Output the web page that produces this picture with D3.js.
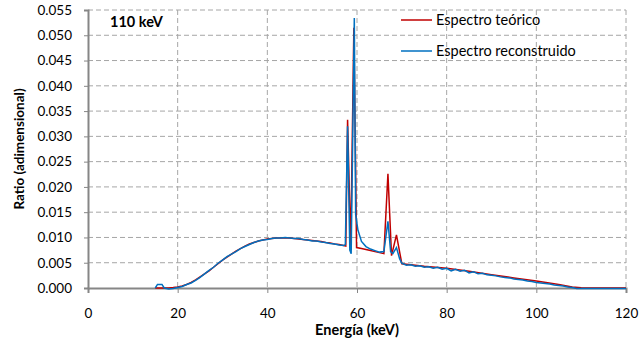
<!DOCTYPE html>
<html lang="es">
<head>
<meta charset="UTF-8" />
<script src="https://d3js.org/d3.v7.min.js"></script>
<title>Espectro 110 keV</title>
<style>
  body { margin: 0; background: #fff; }
  text { font-family: Lato, "Open Sans", sans-serif; fill: #000; }
</style>
</head>
<body>
<script>
// energía (keV) y ratio, espectro teórico
var teoE = [15, 16, 17, 18, 19, 20, 21, 22, 23, 24, 25, 26, 27, 28, 29, 30, 31, 32, 33, 34, 35, 36, 37, 38, 39, 40,
  41, 42, 43, 44, 45, 46, 47, 48, 49, 50, 51, 52, 53, 54, 55, 56, 57, 57.5, 57.9, 58.6, 59.3, 59.9,
  61, 62, 63, 64, 65, 66, 66.9, 67.7, 68.8, 70, 72, 75, 80, 85, 90, 95, 100, 105, 108, 110, 115, 120];
var teoV = [0, 0, 0, 0.00002, 0.0001, 0.0002, 0.0004, 0.0007, 0.0011, 0.0016, 0.0022, 0.0028, 0.0034, 0.0041, 0.0048, 0.0055,
  0.0061, 0.0067, 0.0073, 0.0078, 0.0083, 0.0087, 0.0090, 0.0093, 0.0095, 0.0097,
  0.0098, 0.0099, 0.0099, 0.0099, 0.0099, 0.0098, 0.0097, 0.0096, 0.0095, 0.0094, 0.0093, 0.0092, 0.0090, 0.0089,
  0.0087, 0.0086, 0.0084, 0.0083, 0.0333, 0.0080, 0.0515, 0.0080,
  0.0078, 0.0076, 0.0074, 0.0072, 0.0070, 0.0068, 0.0226, 0.0064, 0.0105, 0.0048, 0.0046, 0.0043, 0.0039,
  0.0033, 0.0026, 0.0020, 0.0014, 0.0007, 0.0002, 0.00005, 0, 0];

// espectro reconstruido
var recE = [15, 15.5, 16.5, 17, 18, 19, 20, 21, 22, 23, 24, 25, 26, 27, 28, 29, 30, 31, 32, 33, 34, 35, 36, 37, 38, 39, 40,
  41, 42, 43, 44, 45, 46, 47, 48, 49, 50, 51, 52, 53, 54, 55, 56, 57, 57.4, 57.9, 58.4, 58.7, 59.4, 59.7, 60.2,
  61, 62, 63, 64, 65, 66, 66.9, 67.5, 68, 68.8, 69.5, 70, 71, 72, 73, 74, 75, 76, 77, 78, 79, 80,
  81, 82, 83, 84, 85, 86, 87, 88, 89, 90, 91, 92, 93, 94, 95, 96, 97, 98, 99, 100,
  101, 102, 103, 104, 105, 106, 107, 108, 109, 110, 112, 114, 116, 118, 120];
var recV = [0, 0.0007, 0.0007, 0, -0.0002, -0.0001, 0.0001, 0.0003, 0.0007, 0.0010, 0.0015, 0.0021, 0.0028, 0.0035, 0.0041,
  0.0049, 0.0055, 0.0062, 0.0067, 0.0072, 0.0078, 0.0082, 0.0086, 0.0090, 0.0093, 0.0095, 0.0096,
  0.0098, 0.0099, 0.0099, 0.0100, 0.0099, 0.0098, 0.0098, 0.0096, 0.0095, 0.0093, 0.0093, 0.0091, 0.0090, 0.0088,
  0.0087, 0.0085, 0.0084, 0.0086, 0.0320, 0.0075, 0.0068, 0.0534, 0.0145, 0.0115,
  0.0092, 0.0082, 0.0077, 0.0074, 0.0071, 0.0072, 0.0132, 0.0072, 0.0068, 0.0080, 0.0058, 0.0049,
  0.0045, 0.0046, 0.0043, 0.0044, 0.0041, 0.0042, 0.0039, 0.0041, 0.0037, 0.0039,
  0.0034, 0.0037, 0.0033, 0.0035, 0.0030, 0.0032, 0.0028, 0.0029, 0.0026, 0.0025,
  0.0024, 0.0022, 0.0021, 0.0020, 0.0018, 0.0017, 0.0016, 0.0014, 0.0013, 0.0011,
  0.0010, 0.0009, 0.0008, 0.0006, 0.0005, 0.0004, 0.0002, 0.0001, -0.0001, -0.0001,
  -0.0001, -0.0001, -0.0001, -0.0001, -0.0001];

var xTicks = [0, 20, 40, 60, 80, 100, 120];
var yTicks = [0, 0.005, 0.010, 0.015, 0.020, 0.025, 0.030, 0.035, 0.040, 0.045, 0.050, 0.055];
var seriesNames = ["Espectro teórico", "Espectro reconstruido"];
var seriesColors = ["#C00000", "#0070C0"];

var W = 640, H = 343;
var margin = {top: 10, right: 14, bottom: 55, left: 88};
var width = W - margin.left - margin.right,
    height = H - margin.top - margin.bottom;

var x = d3.scaleLinear().domain([0, 120]).range([0, width]);
var y = d3.scaleLinear().domain([0, 0.055]).range([height, 0]);

var svg = d3.select("body").append("svg").attr("width", W).attr("height", H);
var g = svg.append("g").attr("transform", "translate(" + margin.left + "," + margin.top + ")");

// rejilla
g.selectAll(".gy").data(yTicks.slice(1)).enter().append("line")
  .attr("x1", 0).attr("x2", width)
  .attr("y1", function(d){ return y(d); }).attr("y2", function(d){ return y(d); })
  .attr("stroke", "#a6a6a6").attr("stroke-dasharray", "5,3");
g.selectAll(".gx").data(xTicks.slice(1)).enter().append("line")
  .attr("y1", 0).attr("y2", height)
  .attr("x1", function(d){ return x(d); }).attr("x2", function(d){ return x(d); })
  .attr("stroke", "#a6a6a6").attr("stroke-dasharray", "5,3");

// ejes
var yAxis = g.append("g").call(d3.axisLeft(y).tickValues(yTicks).tickFormat(d3.format(".3f")).tickSize(4).tickPadding(12));
var xAxis = g.append("g").attr("transform", "translate(0," + height + ")")
  .call(d3.axisBottom(x).tickValues(xTicks).tickSize(5).tickPadding(15));
[yAxis, xAxis].forEach(function(a){
  a.select(".domain").attr("stroke", "#868686").attr("stroke-width", 2);
  a.selectAll(".tick line").attr("stroke", "#868686");
  a.selectAll("text").style("font-size", "13.5px").style("font-family", "Lato, sans-serif").attr("fill", "#000");
});

// series
var line = d3.line().x(function(d){ return x(d[0]); }).y(function(d){ return y(d[1]); });
var teo = d3.zip(teoE, teoV), rec = d3.zip(recE, recV);
g.append("path").datum(teo).attr("d", line).attr("fill", "none")
  .attr("stroke", seriesColors[0]).attr("stroke-width", 1.5);
g.append("path").datum(rec).attr("d", line).attr("fill", "none")
  .attr("stroke", seriesColors[1]).attr("stroke-width", 1.5);

// leyenda
var leg = svg.append("g").selectAll("g").data(seriesNames).enter().append("g")
  .attr("transform", function(d, i){ return "translate(401," + (20 + i * 31) + ")"; });
leg.append("line").attr("x1", 0).attr("x2", 31)
  .attr("stroke", function(d, i){ return seriesColors[i]; }).attr("stroke-width", 1.5);
leg.append("text").attr("x", 35).attr("y", 5).style("font-size", "14.5px").text(function(d){ return d; });

svg.append("text").attr("x", 110).attr("y", 27).style("font-size", "14.5px").style("font-weight", "bold").text("110 keV");

svg.append("text").attr("x", margin.left + width / 2).attr("y", 335).attr("text-anchor", "middle")
  .style("font-size", "14.5px").style("font-weight", "bold").text("Energía (keV)");
svg.append("text").attr("transform", "translate(24," + (margin.top + height / 2) + ") rotate(-90)")
  .attr("text-anchor", "middle").style("font-size", "13.5px").style("font-weight", "bold").text("Ratio (adimensional)");
</script>
</body>
</html>
